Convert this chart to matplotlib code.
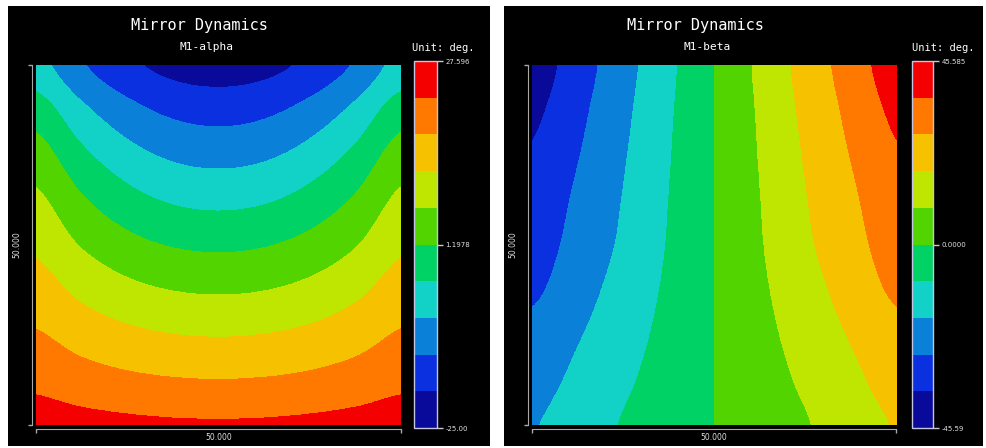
import numpy as np
import matplotlib
matplotlib.use("Agg")
import matplotlib.pyplot as plt
from matplotlib.colors import ListedColormap, BoundaryNorm

# grid: 9 x 9 points, rows top -> bottom, columns left -> right
xs = [0, 12.5, 25, 37.5, 50, 62.5, 75, 87.5, 100]
ys = [100, 87.5, 75, 62.5, 50, 37.5, 25, 12.5, 0]

alpha = [
    [-7.38, -13.90, -18.53, -21.32, -22.27, -21.32, -18.53, -13.90, -7.38],
    [-1.33, -8.01, -12.80, -15.69, -16.64, -15.69, -12.80, -8.01, -1.33],
    [3.66, -2.75, -7.33, -10.12, -11.01, -10.12, -7.33, -2.75, 3.66],
    [7.61, 1.93, -2.12, -4.59, -5.38, -4.59, -2.12, 1.93, 7.61],
    [10.87, 6.24, 2.94, 0.96, 0.30, 0.96, 2.94, 6.24, 10.87],
    [14.18, 10.57, 7.99, 6.44, 5.93, 6.44, 7.99, 10.57, 14.18],
    [17.55, 14.93, 13.05, 11.93, 11.55, 11.93, 13.05, 14.93, 17.55],
    [21.07, 19.37, 18.16, 17.43, 17.18, 17.43, 18.16, 19.37, 21.07],
    [24.60, 23.81, 23.26, 22.92, 22.81, 22.92, 23.26, 23.81, 24.60],
]

beta = [
    [-41.30, -31.73, -21.65, -11.12, 0.0, 11.12, 21.65, 31.73, 41.30],
    [-38.38, -29.72, -20.33, -10.30, 0.0, 10.30, 20.33, 29.72, 38.38],
    [-35.74, -27.81, -19.06, -9.66, 0.0, 9.66, 19.06, 27.81, 35.74],
    [-33.46, -25.89, -17.87, -9.03, 0.0, 9.03, 17.87, 25.89, 33.46],
    [-31.46, -24.25, -16.78, -8.48, 0.0, 8.48, 16.78, 24.25, 31.46],
    [-28.81, -21.88, -14.77, -7.57, 0.0, 7.57, 14.77, 21.88, 28.81],
    [-24.89, -18.96, -12.76, -6.47, 0.0, 6.47, 12.76, 18.96, 24.89],
    [-21.79, -16.23, -10.67, -5.29, 0.0, 5.29, 10.67, 16.23, 21.79],
    [-18.78, -13.59, -8.57, -4.29, 0.0, 4.29, 8.57, 13.59, 18.78],
]

alpha_range = [-25.0, 27.596]
beta_range = [-45.59, 45.585]
alpha_ticklabels = ["-25.00", "1.1978", "27.596"]
beta_ticklabels = ["-45.59", "0.0000", "45.585"]

band_colors = ["#0a0a9a", "#0a30e0", "#0a80d8", "#12d2c8", "#00d266",
               "#52d400", "#bee600", "#f6c200", "#ff7800", "#f50000"]
cmap = ListedColormap(band_colors)
grey = "#a8a8a8"
txt = "#e0e0e0"

fig = plt.figure(figsize=(9.87, 4.48), dpi=100, facecolor="white")


def panel(bg_rect, ax_rect, cb_rect, data, vrange, ticklabels, name, title_x, sub_x, unit_x):
    bg = fig.add_axes(bg_rect)
    bg.set_facecolor("black")
    bg.set_xticks([])
    bg.set_yticks([])
    for s in bg.spines.values():
        s.set_visible(False)

    levels = np.linspace(vrange[0], vrange[1], 11)
    norm = BoundaryNorm(levels, cmap.N)

    ax = fig.add_axes(ax_rect)
    ax.set_facecolor("black")
    dx = xs[1] - xs[0]
    im = ax.imshow(np.array(data), cmap=cmap, norm=norm, origin="upper",
                   interpolation="catrom", interpolation_stage="data",
                   extent=(xs[0] - dx / 2, xs[-1] + dx / 2, ys[-1] - dx / 2, ys[0] + dx / 2),
                   aspect="auto")
    ax.set_xlim(0, 100)
    ax.set_ylim(0, 100)
    ax.spines["top"].set_visible(False)
    ax.spines["right"].set_visible(False)
    for side in ["left", "bottom"]:
        ax.spines[side].set_position(("outward", 3))
        ax.spines[side].set_color(grey)
    ax.set_xticks([0, 100])
    ax.set_yticks([0, 100])
    ax.set_xticklabels([])
    ax.set_yticklabels([])
    ax.tick_params(direction="out", length=3, color=grey, width=1)
    ax.set_xlabel("50.000", fontsize=5.5, color=txt)
    ax.xaxis.set_label_coords(0.5, -0.022)
    ax.set_ylabel("50.000", fontsize=5.5, color=txt, labelpad=1)

    cax = fig.add_axes(cb_rect)
    cb = fig.colorbar(im, cax=cax, ticks=[levels[0], levels[5], levels[-1]])
    cb.ax.set_yticklabels(ticklabels)
    cb.outline.set_edgecolor("#c4c4e4")
    cb.outline.set_linewidth(1)
    cb.ax.tick_params(direction="out", length=4, color="#c8c8c8", width=1,
                      labelsize=5, labelcolor=txt, pad=2)

    fig.text(title_x, 0.944, "Mirror Dynamics", ha="center", va="center",
             fontsize=11, color="white", family="DejaVu Sans Mono")
    fig.text(sub_x, 0.895, name, ha="center", va="center",
             fontsize=8, color="white", family="DejaVu Sans Mono")
    fig.text(unit_x, 0.893, "Unit: deg.", ha="center", va="center",
             fontsize=7.5, color="white", family="DejaVu Sans Mono")


panel([0.0081, 0.0045, 0.4884, 0.9821], [0.0365, 0.0513, 0.3698, 0.8036],
      [0.4195, 0.0446, 0.0233, 0.8192], alpha, alpha_range, alpha_ticklabels,
      "M1-alpha", 0.2016, 0.2097, 0.4494)
panel([0.5106, 0.0045, 0.4853, 0.9821], [0.5390, 0.0513, 0.3688, 0.8036],
      [0.9240, 0.0446, 0.0213, 0.8192], beta, beta_range, beta_ticklabels,
      "M1-beta", 0.7042, 0.7163, 0.9554)

fig.savefig("out.png", dpi=100, facecolor="white")
